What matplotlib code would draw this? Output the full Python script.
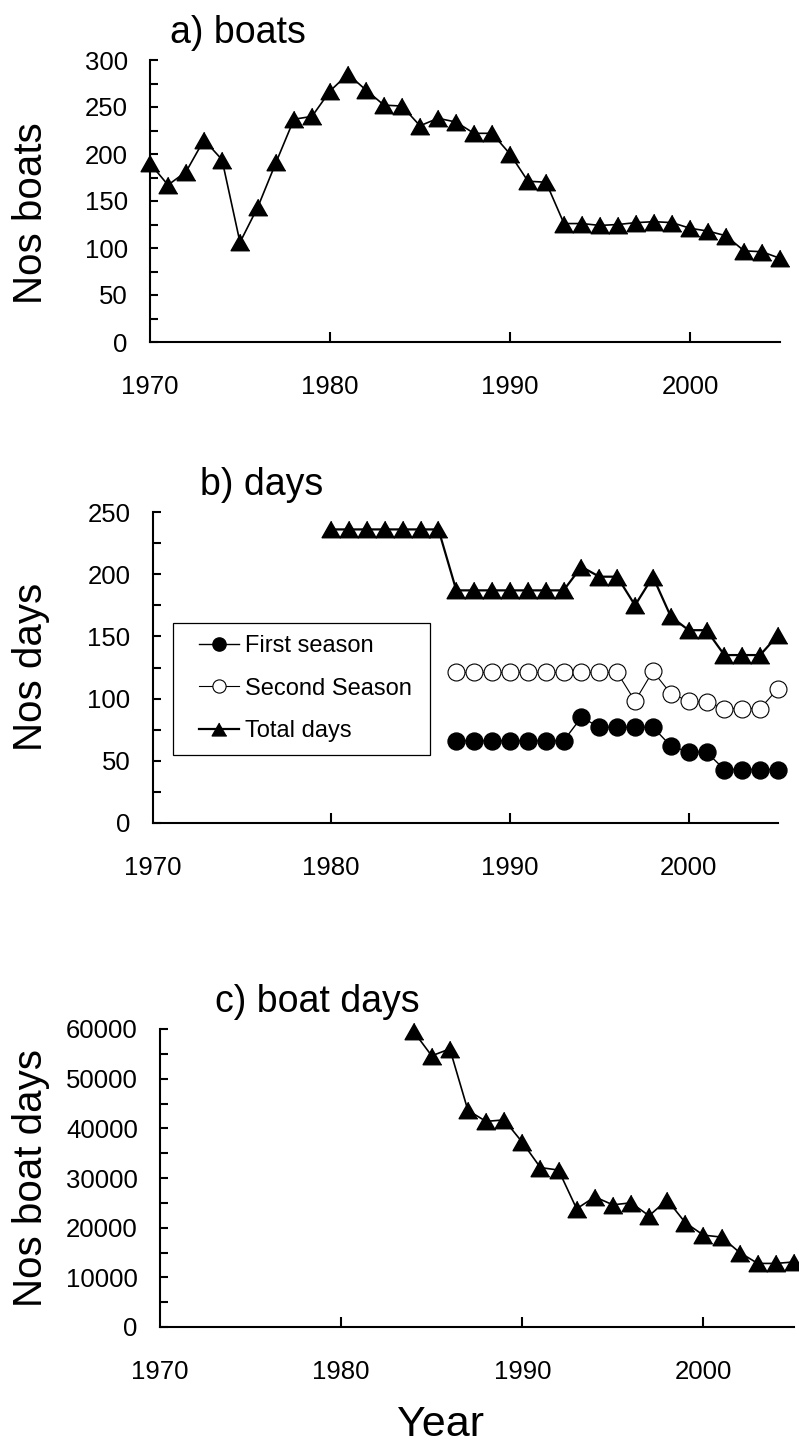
import matplotlib
matplotlib.use("Agg")
import matplotlib.pyplot as plt
from matplotlib.ticker import MultipleLocator
from matplotlib.patches import Rectangle

plt.rcParams['font.family'] = ['Liberation Sans', 'DejaVu Sans']

# a) number of boats, 1970-2005
boat_years = list(range(1970, 2006))
boats = [190, 167, 181, 215, 194, 106, 144, 191, 237, 240,
         267, 285, 268, 252, 251, 230, 238, 234, 222, 222,
         200, 171, 170, 126, 126, 124, 125, 127, 128, 127,
         121, 118, 113, 97, 96, 89]

# b) fishing days per season
total_years = list(range(1980, 2006))
total_days = [236, 236, 236, 236, 236, 236, 236,
              187, 187, 187, 187, 187, 187, 187,
              206, 198, 198, 175, 198, 166, 155, 155,
              135, 135, 135, 151]
season_years = list(range(1987, 2006))
first_season = [66, 66, 66, 66, 66, 66, 66,
                85, 77, 77, 77, 77, 62, 57, 57, 43, 43, 43, 43]
second_season = [121, 121, 121, 121, 121, 121, 121, 121, 121, 121,
                 98, 122, 104, 98, 97, 92, 92, 92, 108]

# c) boat days
bd_years = list(range(1984, 2006))
boat_days = [59500, 54600, 56000, 43600, 41400, 41700, 37200, 32100,
             31600, 23800, 26200, 24600, 25000, 22400, 25600, 21000,
             18500, 18100, 15000, 12800, 12800, 13100]

W, H = 799, 1456
fig = plt.figure(figsize=(W / 100, H / 100), dpi=100)


def px_axes(left, top, right, bottom):
    return fig.add_axes([left / W, 1 - bottom / H, (right - left) / W, (bottom - top) / H])


tri = [(0, 0.88), (-1, -0.88), (1, -0.88)]


def style(ax, ymax, ystep):
    ax.set_xlim(1970, 2005)
    ax.set_ylim(0, ymax)
    ax.xaxis.set_major_locator(MultipleLocator(10))
    ax.yaxis.set_major_locator(MultipleLocator(ystep))
    ax.yaxis.set_minor_locator(MultipleLocator(ystep / 2))
    for s in ['top', 'right']:
        ax.spines[s].set_visible(False)
    for s in ['left', 'bottom']:
        ax.spines[s].set_linewidth(1.5)
    ax.tick_params(axis='x', which='major', direction='in', length=7, width=1.5,
                   pad=24, labelsize=18.5)
    ax.tick_params(axis='y', which='both', direction='in', length=5.5, width=1.5,
                   pad=16, labelsize=18.5)
    ax.set_xticks([1970, 1980, 1990, 2000])
    # no tick mark on the y spine itself
    ax.xaxis.get_major_ticks()[0].tick1line.set_visible(False)


# a) boats
ax1 = px_axes(150, 60, 780, 342)
ax1.plot(boat_years, boats, color='black', lw=1.2, marker=tri, ms=13.5,
         mfc='black', mec='black', clip_on=False)
style(ax1, 300, 50)
fig.text(238 / W, 1 - 33 / H, 'a) boats', fontsize=27, ha='center', va='center')
fig.text(31 / W, 1 - 213 / H, 'Nos boats', fontsize=29, rotation=90,
         ha='center', va='center')

# b) days
ax2 = px_axes(152.5, 512, 778, 823)
l1, = ax2.plot(season_years, first_season, color='black', lw=1, marker='o', ms=12.2,
               mfc='black', mec='black', clip_on=False, label='First season')
l2, = ax2.plot(season_years, second_season, color='black', lw=0.8, marker='o', ms=12.2,
               mfc='white', mec='black', mew=0.8, clip_on=False, label='Second Season')
l3, = ax2.plot(total_years, total_days, color='black', lw=1.6, marker=tri, ms=13.5,
               mfc='black', mec='black', clip_on=False, label='Total days')
style(ax2, 250, 50)
fig.text(262 / W, 1 - 485 / H, 'b) days', fontsize=27, ha='center', va='center')
fig.text(31 / W, 1 - 667 / H, 'Nos days', fontsize=29, rotation=90,
         ha='center', va='center')
fig.legend(handles=[l1, l2, l3], loc='upper left',
           bbox_to_anchor=(187 / W, 1 - 623 / H), bbox_transform=fig.transFigure,
           frameon=False, fontsize=17, borderpad=0, handlelength=1.7,
           handletextpad=0.25, labelspacing=0.88, markerscale=0.78)
fig.add_artist(Rectangle((173 / W, 1 - 755 / H), 257 / W, 132 / H,
                         transform=fig.transFigure, fill=False, ec='black', lw=0.9))

# c) boat days
ax3 = px_axes(160, 1029, 794, 1327)
ax3.plot(bd_years, boat_days, color='black', lw=1.2, marker=tri, ms=13.5,
         mfc='black', mec='black', clip_on=False)
style(ax3, 60000, 10000)
fig.text(317 / W, 1 - 1002 / H, 'c) boat days', fontsize=27, ha='center', va='center')
fig.text(31 / W, 1 - 1178 / H, 'Nos boat days', fontsize=29, rotation=90,
         ha='center', va='center')

fig.text(440 / W, 1 - 1425 / H, 'Year', fontsize=31, ha='center', va='center')

fig.savefig('out.png', dpi=100)
